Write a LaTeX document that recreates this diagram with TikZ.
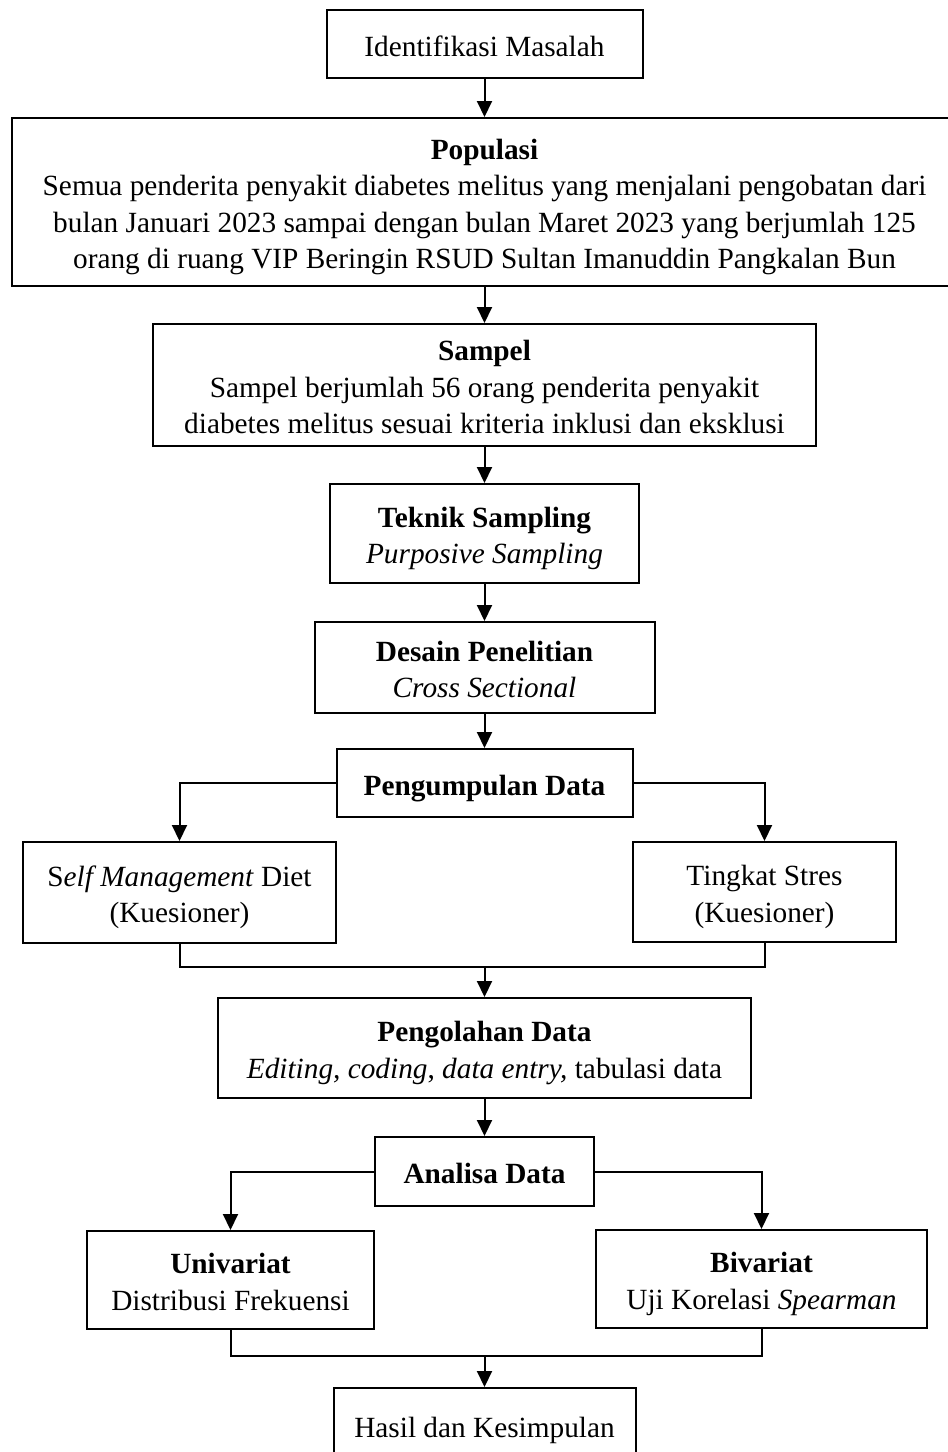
\documentclass[tikz,border=0pt]{standalone}
\usepackage{fontspec}
\setmainfont{Liberation Serif}
\usetikzlibrary{arrows.meta}
\newcommand\topstrutx{\rule{0pt}{15.5pt}}
\newcommand\botstrutx{\rule[-3.5pt]{0pt}{0pt}}
\begin{document}
\begin{tikzpicture}[x=0.5pt,y=-0.5pt,
  box/.style={draw,line width=1pt,rectangle,inner sep=0pt,align=center,
    font=\fontsize{14.65}{18.25}\selectfont},
  arr/.style={line width=1pt,-{Triangle[length=8pt,width=7.5pt]}},
  ln/.style={line width=1pt}]
\useasboundingbox (0,0) rectangle (948,1452);
\clip (0,0) rectangle (948,1452);
\node[box,minimum width=158pt,minimum height=34pt] (id) at (484.5,44) {\topstrutx Identifikasi Masalah\botstrutx};
\node[box,minimum width=472.5pt,minimum height=84pt] (pop) at (484.5,202) {\topstrutx\textbf{Populasi}\\Semua penderita penyakit diabetes melitus yang menjalani pengobatan dari\\bulan Januari 2023 sampai dengan bulan Maret 2023 yang berjumlah 125\\orang di ruang VIP Beringin RSUD Sultan Imanuddin Pangkalan Bun\botstrutx};
\node[box,minimum width=331.5pt,minimum height=61pt] (sam) at (484.5,385) {\topstrutx\textbf{Sampel}\\Sampel berjumlah 56 orang penderita penyakit\\diabetes melitus sesuai kriteria inklusi dan eksklusi\botstrutx};
\node[box,minimum width=154.5pt,minimum height=49.5pt] (tek) at (484.5,533.5) {\topstrutx\textbf{Teknik Sampling}\\\textit{Purposive Sampling}\botstrutx};
\node[box,minimum width=170pt,minimum height=45.5pt] (des) at (484.5,667.5) {\topstrutx\textbf{Desain Penelitian}\\\textit{Cross Sectional}\botstrutx};
\node[box,minimum width=148pt,minimum height=34pt] (pk) at (484.5,783) {\topstrutx\textbf{Pengumpulan Data}\botstrutx};
\node[box,minimum width=156.5pt,minimum height=50.5pt] (self) at (179.5,892.5) {\topstrutx S\textit{elf Management} Diet\\(Kuesioner)\botstrutx};
\node[box,minimum width=131.5pt,minimum height=50pt] (str) at (764.5,892) {\topstrutx Tingkat Stres\\(Kuesioner)\botstrutx};
\node[box,minimum width=266.5pt,minimum height=50pt] (peng) at (484.5,1048) {\topstrutx\textbf{Pengolahan Data}\\\textit{Editing, coding}, \textit{data entry,} tabulasi data\botstrutx};
\node[box,minimum width=109.5pt,minimum height=34.5pt] (an) at (484.5,1171.5) {\topstrutx\textbf{Analisa Data}\botstrutx};
\node[box,minimum width=143.5pt,minimum height=49pt] (uni) at (230.5,1280) {\topstrutx\textbf{Univariat}\\Distribusi Frekuensi\botstrutx};
\node[box,minimum width=165.5pt,minimum height=49pt] (bi) at (761.5,1279) {\topstrutx\textbf{Bivariat}\\Uji Korelasi \textit{Spearman}\botstrutx};
\node[box,minimum width=151pt,minimum height=37pt] (has) at (484.5,1425) {\topstrutx Hasil dan Kesimpulan\botstrutx};
\coordinate (m1) at (484.5,967);
\coordinate (m2) at (484.5,1356);
\draw[arr] (id) -- (pop);
\draw[arr] (pop) -- (sam);
\draw[arr] (sam) -- (tek);
\draw[arr] (tek) -- (des);
\draw[arr] (des) -- (pk);
\draw[arr] (pk.west) -| (self.north);
\draw[arr] (pk.east) -| (str.north);
\draw[ln] (self.south) |- (m1) -| (str.south);
\draw[arr] (m1) -- (peng.north);
\draw[arr] (peng) -- (an);
\draw[arr] (an.west) -| (uni.north);
\draw[arr] (an.east) -| (bi.north);
\draw[ln] (uni.south) |- (m2) -| (bi.south);
\draw[arr] (m2) -- (has.north);
\end{tikzpicture}
\end{document}
